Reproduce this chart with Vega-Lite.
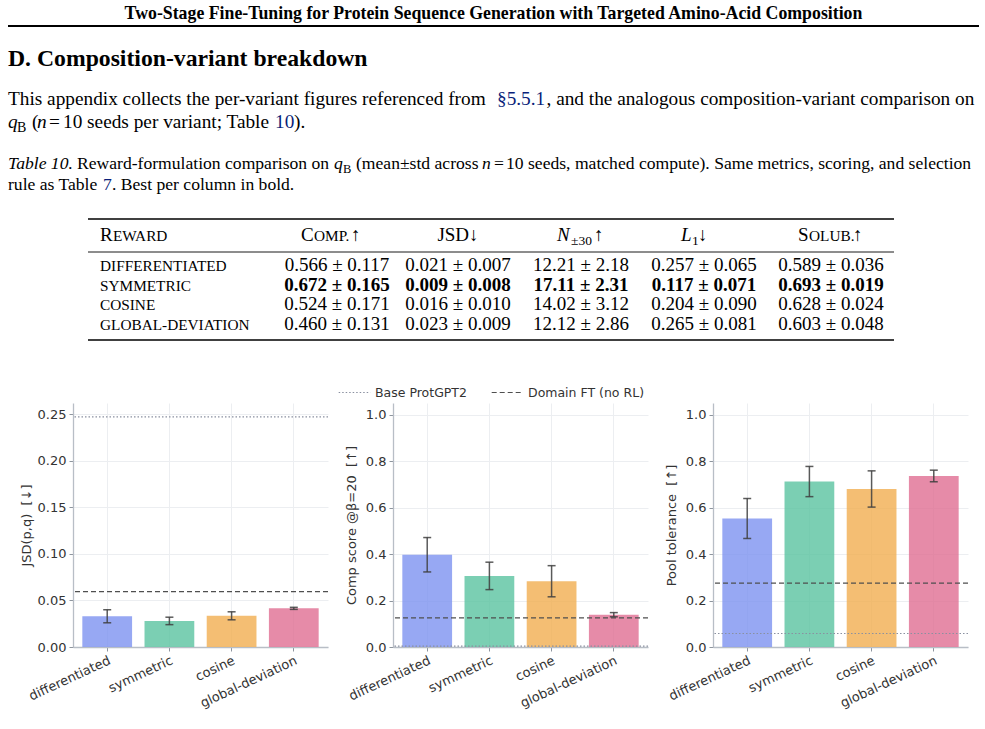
{
  "$schema": "https://vega.github.io/schema/vega-lite/v6.json",
  "background": "white",
  "autosize": {"type": "pad"},
  "padding": {"left": 7, "top": 0, "right": 7, "bottom": 0},
  "bounds": "flush",
  "spacing": 58,
  "datasets": {
    "bars": [
      {"metric": "jsd", "variant": "differentiated", "value": 0.033, "sd": 0.007},
      {"metric": "jsd", "variant": "symmetric", "value": 0.028, "sd": 0.004},
      {"metric": "jsd", "variant": "cosine", "value": 0.0335, "sd": 0.0043},
      {"metric": "jsd", "variant": "global-deviation", "value": 0.0415, "sd": 0.0011},
      {"metric": "comp", "variant": "differentiated", "value": 0.397, "sd": 0.074},
      {"metric": "comp", "variant": "symmetric", "value": 0.306, "sd": 0.059},
      {"metric": "comp", "variant": "cosine", "value": 0.283, "sd": 0.067},
      {"metric": "comp", "variant": "global-deviation", "value": 0.139, "sd": 0.009},
      {"metric": "pool", "variant": "differentiated", "value": 0.553, "sd": 0.086},
      {"metric": "pool", "variant": "symmetric", "value": 0.712, "sd": 0.065},
      {"metric": "pool", "variant": "cosine", "value": 0.68, "sd": 0.078},
      {"metric": "pool", "variant": "global-deviation", "value": 0.736, "sd": 0.025}
    ],
    "refs": [
      {"metric": "jsd", "ref": "Base ProtGPT2", "value": 0.247},
      {"metric": "jsd", "ref": "Domain FT (no RL)", "value": 0.0595},
      {"metric": "comp", "ref": "Base ProtGPT2", "value": 0.004},
      {"metric": "comp", "ref": "Domain FT (no RL)", "value": 0.125},
      {"metric": "pool", "ref": "Base ProtGPT2", "value": 0.058},
      {"metric": "pool", "ref": "Domain FT (no RL)", "value": 0.275}
    ]
  },
  "vconcat": [
    {
      "width": 895,
      "height": 345,
      "encoding": {
        "x": {"field": "stop", "type": "quantitative", "axis": null,
          "scale": {"zero": false, "nice": false,
            "domain": [0,1,2,3,4,5,6,7,8,9,10,11,12,13,14,15,16,17,18,19,20,21,22,23,24,25,26,27,28,29,30,31,32,33,34,35,36,37,38,39,40,41],
            "range": [-65,906,420.5,15,821,27,264,385,508,631,758,424,473.5,-56,-41,-36,-10,202,221,4,261,270,283,409,433,30,39,40,228,241,278,484,498,521,608,619,625,725,736,780,-24,421]}},
        "y": {"field": "line", "type": "quantitative", "axis": null,
          "scale": {"zero": false, "nice": false,
            "domain": [0,1,2,3,4,5,6,7,8,9,10,11,12,13,14],
            "range": [19,26,66,105,128,169,190,219,241,252,271,291,310,330,340]}}
      },
      "layer": [
        {
          "data": {"values": [{"line": 1, "stop": 0, "stop2": 1}]},
          "mark": {"type": "rule", "color": "black", "strokeWidth": 2},
          "encoding": {"x2": {"field": "stop2"}}
        },
        {
          "data": {"values": [{"line": 7, "stop": 3, "stop2": 4}, {"line": 14, "stop": 3, "stop2": 4}]},
          "mark": {"type": "rule", "color": "black", "strokeWidth": 1.6},
          "encoding": {"x2": {"field": "stop2"}}
        },
        {
          "data": {"values": [{"line": 9, "stop": 3, "stop2": 4}]},
          "mark": {"type": "rule", "color": "black", "strokeWidth": 0.9},
          "encoding": {"x2": {"field": "stop2"}}
        },
        {
          "data": {"values": [{"line": 0, "stop": 2, "text": "Two-Stage Fine-Tuning for Protein Sequence Generation with Targeted Amino-Acid Composition"}]},
          "mark": {"type": "text", "font": "Liberation Serif", "fontSize": 17.8, "fontWeight": "bold", "align": "center", "baseline": "alphabetic", "color": "black"},
          "encoding": {"text": {"field": "text"}}
        },
        {
          "data": {"values": [{"line": 2, "stop": 0, "text": "D. Composition-variant breakdown"}]},
          "mark": {"type": "text", "font": "Liberation Serif", "fontSize": 23.7, "fontWeight": "bold", "align": "left", "baseline": "alphabetic", "color": "black"},
          "encoding": {"text": {"field": "text"}}
        },
        {
          "data": {"values": [
            {"line": 3, "stop": 0, "text": "This appendix collects the per-variant figures referenced from"},
            {"line": 3, "stop": 12, "text": ", and the analogous composition-variant comparison on"},
            {"line": 4, "stop": 14, "text": "("},
            {"line": 4, "stop": 40, "text": "="},
            {"line": 4, "stop": 16, "text": "10 seeds per variant; Table"},
            {"line": 4, "stop": 18, "text": ")."}
          ]},
          "mark": {"type": "text", "font": "Liberation Serif", "fontSize": 19.3, "align": "left", "baseline": "alphabetic", "color": "black"},
          "encoding": {"text": {"field": "text"}}
        },
        {
          "data": {"values": [{"line": 4, "stop": 0, "text": "q"}, {"line": 4, "stop": 15, "text": "n"}]},
          "mark": {"type": "text", "font": "Liberation Serif", "fontSize": 19.3, "fontStyle": "italic", "align": "left", "baseline": "alphabetic", "color": "black"},
          "encoding": {"text": {"field": "text"}}
        },
        {
          "data": {"values": [{"line": 4, "stop": 13, "text": "B"}]},
          "mark": {"type": "text", "font": "Liberation Serif", "fontSize": 14, "dy": 4, "align": "left", "baseline": "alphabetic", "color": "black"},
          "encoding": {"text": {"field": "text"}}
        },
        {
          "data": {"values": [{"line": 3, "stop": 11, "text": "§5.5.1"}, {"line": 4, "stop": 17, "text": "10"}]},
          "mark": {"type": "text", "font": "Liberation Serif", "fontSize": 19.3, "align": "left", "baseline": "alphabetic", "color": "#0a1f7a"},
          "encoding": {"text": {"field": "text"}}
        },
        {
          "data": {"values": [
            {"line": 5, "stop": 19, "text": "Reward-formulation comparison on"},
            {"line": 5, "stop": 22, "text": "(mean±std across"},
            {"line": 5, "stop": 41, "text": "="},
            {"line": 5, "stop": 24, "text": "10 seeds, matched compute). Same metrics, scoring, and selection"},
            {"line": 6, "stop": 0, "text": "rule as Table"},
            {"line": 6, "stop": 26, "text": ". Best per column in bold."}
          ]},
          "mark": {"type": "text", "font": "Liberation Serif", "fontSize": 17.6, "align": "left", "baseline": "alphabetic", "color": "black"},
          "encoding": {"text": {"field": "text"}}
        },
        {
          "data": {"values": [{"line": 5, "stop": 0, "text": "Table 10."}, {"line": 5, "stop": 20, "text": "q"}, {"line": 5, "stop": 23, "text": "n"}]},
          "mark": {"type": "text", "font": "Liberation Serif", "fontSize": 17.6, "fontStyle": "italic", "align": "left", "baseline": "alphabetic", "color": "black"},
          "encoding": {"text": {"field": "text"}}
        },
        {
          "data": {"values": [{"line": 5, "stop": 21, "text": "B"}]},
          "mark": {"type": "text", "font": "Liberation Serif", "fontSize": 12.5, "dy": 3.5, "align": "left", "baseline": "alphabetic", "color": "black"},
          "encoding": {"text": {"field": "text"}}
        },
        {
          "data": {"values": [{"line": 6, "stop": 25, "text": "7"}]},
          "mark": {"type": "text", "font": "Liberation Serif", "fontSize": 17.6, "align": "left", "baseline": "alphabetic", "color": "#0a1f7a"},
          "encoding": {"text": {"field": "text"}}
        },
        {
          "data": {"values": [
            {"line": 8, "stop": 5, "text": "R"}, {"line": 8, "stop": 28, "text": "C"}, {"line": 8, "stop": 37, "text": "S"},
            {"line": 8, "stop": 30, "text": "↑"}, {"line": 8, "stop": 33, "text": "↑"}, {"line": 8, "stop": 36, "text": "↓"}, {"line": 8, "stop": 39, "text": "↑"}
          ]},
          "mark": {"type": "text", "font": "Liberation Serif", "fontSize": 19, "align": "left", "baseline": "alphabetic", "color": "black"},
          "encoding": {"text": {"field": "text"}}
        },
        {
          "data": {"values": [{"line": 8, "stop": 7, "text": "JSD↓"}]},
          "mark": {"type": "text", "font": "Liberation Serif", "fontSize": 19, "align": "center", "baseline": "alphabetic", "color": "black"},
          "encoding": {"text": {"field": "text"}}
        },
        {
          "data": {"values": [
            {"line": 8, "stop": 27, "text": "EWARD"}, {"line": 8, "stop": 29, "text": "OMP."}, {"line": 8, "stop": 38, "text": "OLUB."},
            {"line": 10, "stop": 5, "text": "DIFFERENTIATED"}, {"line": 11, "stop": 5, "text": "SYMMETRIC"},
            {"line": 12, "stop": 5, "text": "COSINE"}, {"line": 13, "stop": 5, "text": "GLOBAL-DEVIATION"}
          ]},
          "mark": {"type": "text", "font": "Liberation Serif", "fontSize": 15.3, "align": "left", "baseline": "alphabetic", "color": "black"},
          "encoding": {"text": {"field": "text"}}
        },
        {
          "data": {"values": [{"line": 8, "stop": 31, "text": "N"}, {"line": 8, "stop": 34, "text": "L"}]},
          "mark": {"type": "text", "font": "Liberation Serif", "fontSize": 19, "fontStyle": "italic", "align": "left", "baseline": "alphabetic", "color": "black"},
          "encoding": {"text": {"field": "text"}}
        },
        {
          "data": {"values": [{"line": 8, "stop": 32, "text": "±30"}, {"line": 8, "stop": 35, "text": "1"}]},
          "mark": {"type": "text", "font": "Liberation Serif", "fontSize": 13.5, "dy": 4, "align": "left", "baseline": "alphabetic", "color": "black"},
          "encoding": {"text": {"field": "text"}}
        },
        {
          "data": {"values": [
            {"line": 10, "stop": 6, "text": "0.566 ± 0.117"}, {"line": 10, "stop": 7, "text": "0.021 ± 0.007"}, {"line": 10, "stop": 8, "text": "12.21 ± 2.18"}, {"line": 10, "stop": 9, "text": "0.257 ± 0.065"}, {"line": 10, "stop": 10, "text": "0.589 ± 0.036"},
            {"line": 12, "stop": 6, "text": "0.524 ± 0.171"}, {"line": 12, "stop": 7, "text": "0.016 ± 0.010"}, {"line": 12, "stop": 8, "text": "14.02 ± 3.12"}, {"line": 12, "stop": 9, "text": "0.204 ± 0.090"}, {"line": 12, "stop": 10, "text": "0.628 ± 0.024"},
            {"line": 13, "stop": 6, "text": "0.460 ± 0.131"}, {"line": 13, "stop": 7, "text": "0.023 ± 0.009"}, {"line": 13, "stop": 8, "text": "12.12 ± 2.86"}, {"line": 13, "stop": 9, "text": "0.265 ± 0.081"}, {"line": 13, "stop": 10, "text": "0.603 ± 0.048"}
          ]},
          "mark": {"type": "text", "font": "Liberation Serif", "fontSize": 19, "align": "center", "baseline": "alphabetic", "color": "black"},
          "encoding": {"text": {"field": "text"}}
        },
        {
          "data": {"values": [
            {"line": 11, "stop": 6, "text": "0.672 ± 0.165"}, {"line": 11, "stop": 7, "text": "0.009 ± 0.008"}, {"line": 11, "stop": 8, "text": "17.11 ± 2.31"}, {"line": 11, "stop": 9, "text": "0.117 ± 0.071"}, {"line": 11, "stop": 10, "text": "0.693 ± 0.019"}
          ]},
          "mark": {"type": "text", "font": "Liberation Serif", "fontSize": 19, "fontWeight": "bold", "align": "center", "baseline": "alphabetic", "color": "black"},
          "encoding": {"text": {"field": "text"}}
        }
      ]
    },
    {
      "bounds": "flush",
      "spacing": 65,
      "hconcat": [
        {
          "width": 255,
          "height": 244,
          "layer": [
            {
              "data": {"name": "bars"},
              "transform": [{"filter": "datum.metric === 'jsd'"}],
              "mark": {"type": "bar", "opacity": 0.8},
              "encoding": {
                "x": {"field": "variant", "type": "nominal", "sort": ["differentiated", "symmetric", "cosine", "global-deviation"],
                  "scale": {"paddingInner": 0.2, "paddingOuter": 0.15},
                  "axis": {"title": null, "labelAngle": -25, "labelAlign": "right", "labelBaseline": "top", "grid": true}},
                "y": {"field": "value", "type": "quantitative", "title": "JSD(p,q)\u00a0\u00a0[↓]", "scale": {"domain": [0, 0.262], "nice": false},
                  "axis": {"values": [0, 0.05, 0.1, 0.15, 0.2, 0.25], "format": ".2f", "grid": true, "titlePadding": 4}},
                "color": {"field": "variant", "type": "nominal", "legend": null,
                  "scale": {"domain": ["differentiated", "symmetric", "cosine", "global-deviation"], "range": ["#7d92f0", "#5ac3a0", "#f1ae50", "#e06e92"]}}
              }
            },
            {
              "data": {"name": "refs"},
              "transform": [{"filter": "datum.metric === 'jsd'"}],
              "mark": {"type": "rule", "strokeWidth": 1.2},
              "encoding": {
                "y": {"field": "value", "type": "quantitative", "title": "JSD(p,q)\u00a0\u00a0[↓]"},
                "stroke": {"field": "ref", "type": "nominal",
                  "scale": {"domain": ["Base ProtGPT2", "Domain FT (no RL)"], "range": ["#8a90a0", "#4f4f4f"]},
                  "legend": {"orient": "none", "legendX": 265, "legendY": 376, "direction": "horizontal", "title": null, "symbolSize": 1000, "symbolStrokeWidth": 1.2, "columnPadding": 22, "labelFontSize": 12.5, "labelColor": "#333", "labelFont": "DejaVu Sans"}},
                "strokeDash": {"field": "ref", "type": "nominal",
                  "scale": {"domain": ["Base ProtGPT2", "Domain FT (no RL)"], "range": [[1.5, 2], [5, 3]]},
                  "legend": {"orient": "none", "legendX": 265, "legendY": 376, "direction": "horizontal", "title": null, "symbolSize": 1000, "symbolStrokeWidth": 1.2, "columnPadding": 22, "labelFontSize": 12.5, "labelColor": "#333", "labelFont": "DejaVu Sans"}}
              }
            },
            {
              "data": {"name": "bars"},
              "transform": [{"filter": "datum.metric === 'jsd'"}],
              "mark": {"type": "errorbar", "ticks": true, "size": 8, "thickness": 1.5, "color": "#3f3f3f", "opacity": 0.85},
              "encoding": {
                "x": {"field": "variant", "type": "nominal", "sort": ["differentiated", "symmetric", "cosine", "global-deviation"]},
                "y": {"field": "value", "type": "quantitative", "title": "JSD(p,q)\u00a0\u00a0[↓]"},
                "yError": {"field": "sd"}
              }
            }
          ]
        },
        {
          "width": 255,
          "height": 244,
          "layer": [
            {
              "data": {"name": "bars"},
              "transform": [{"filter": "datum.metric === 'comp'"}],
              "mark": {"type": "bar", "opacity": 0.8},
              "encoding": {
                "x": {"field": "variant", "type": "nominal", "sort": ["differentiated", "symmetric", "cosine", "global-deviation"],
                  "scale": {"paddingInner": 0.2, "paddingOuter": 0.15},
                  "axis": {"title": null, "labelAngle": -25, "labelAlign": "right", "labelBaseline": "top", "grid": true}},
                "y": {"field": "value", "type": "quantitative", "title": "Comp score @β=20\u00a0\u00a0[↑]", "scale": {"domain": [0, 1.05], "nice": false},
                  "axis": {"values": [0, 0.2, 0.4, 0.6, 0.8, 1.0], "format": ".1f", "grid": true}},
                "color": {"field": "variant", "type": "nominal", "legend": null,
                  "scale": {"domain": ["differentiated", "symmetric", "cosine", "global-deviation"], "range": ["#7d92f0", "#5ac3a0", "#f1ae50", "#e06e92"]}}
              }
            },
            {
              "data": {"name": "refs"},
              "transform": [{"filter": "datum.metric === 'comp'"}],
              "mark": {"type": "rule", "strokeWidth": 1.2},
              "encoding": {
                "y": {"field": "value", "type": "quantitative", "title": "Comp score @β=20\u00a0\u00a0[↑]"},
                "stroke": {"field": "ref", "type": "nominal",
                  "scale": {"domain": ["Base ProtGPT2", "Domain FT (no RL)"], "range": ["#8a90a0", "#4f4f4f"]},
                  "legend": {"orient": "none", "legendX": 265, "legendY": 376, "direction": "horizontal", "title": null, "symbolSize": 1000, "symbolStrokeWidth": 1.2, "columnPadding": 22, "labelFontSize": 12.5, "labelColor": "#333", "labelFont": "DejaVu Sans"}},
                "strokeDash": {"field": "ref", "type": "nominal",
                  "scale": {"domain": ["Base ProtGPT2", "Domain FT (no RL)"], "range": [[1.5, 2], [5, 3]]},
                  "legend": {"orient": "none", "legendX": 265, "legendY": 376, "direction": "horizontal", "title": null, "symbolSize": 1000, "symbolStrokeWidth": 1.2, "columnPadding": 22, "labelFontSize": 12.5, "labelColor": "#333", "labelFont": "DejaVu Sans"}}
              }
            },
            {
              "data": {"name": "bars"},
              "transform": [{"filter": "datum.metric === 'comp'"}],
              "mark": {"type": "errorbar", "ticks": true, "size": 8, "thickness": 1.5, "color": "#3f3f3f", "opacity": 0.85},
              "encoding": {
                "x": {"field": "variant", "type": "nominal", "sort": ["differentiated", "symmetric", "cosine", "global-deviation"]},
                "y": {"field": "value", "type": "quantitative", "title": "Comp score @β=20\u00a0\u00a0[↑]"},
                "yError": {"field": "sd"}
              }
            }
          ]
        },
        {
          "width": 255,
          "height": 244,
          "layer": [
            {
              "data": {"name": "bars"},
              "transform": [{"filter": "datum.metric === 'pool'"}],
              "mark": {"type": "bar", "opacity": 0.8},
              "encoding": {
                "x": {"field": "variant", "type": "nominal", "sort": ["differentiated", "symmetric", "cosine", "global-deviation"],
                  "scale": {"paddingInner": 0.2, "paddingOuter": 0.15},
                  "axis": {"title": null, "labelAngle": -25, "labelAlign": "right", "labelBaseline": "top", "grid": true}},
                "y": {"field": "value", "type": "quantitative", "title": "Pool tolerance\u00a0\u00a0[↑]", "scale": {"domain": [0, 1.05], "nice": false},
                  "axis": {"values": [0, 0.2, 0.4, 0.6, 0.8, 1.0], "format": ".1f", "grid": true}},
                "color": {"field": "variant", "type": "nominal", "legend": null,
                  "scale": {"domain": ["differentiated", "symmetric", "cosine", "global-deviation"], "range": ["#7d92f0", "#5ac3a0", "#f1ae50", "#e06e92"]}}
              }
            },
            {
              "data": {"name": "refs"},
              "transform": [{"filter": "datum.metric === 'pool'"}],
              "mark": {"type": "rule", "strokeWidth": 1.2},
              "encoding": {
                "y": {"field": "value", "type": "quantitative", "title": "Pool tolerance\u00a0\u00a0[↑]"},
                "stroke": {"field": "ref", "type": "nominal",
                  "scale": {"domain": ["Base ProtGPT2", "Domain FT (no RL)"], "range": ["#8a90a0", "#4f4f4f"]},
                  "legend": {"orient": "none", "legendX": 265, "legendY": 376, "direction": "horizontal", "title": null, "symbolSize": 1000, "symbolStrokeWidth": 1.2, "columnPadding": 22, "labelFontSize": 12.5, "labelColor": "#333", "labelFont": "DejaVu Sans"}},
                "strokeDash": {"field": "ref", "type": "nominal",
                  "scale": {"domain": ["Base ProtGPT2", "Domain FT (no RL)"], "range": [[1.5, 2], [5, 3]]},
                  "legend": {"orient": "none", "legendX": 265, "legendY": 376, "direction": "horizontal", "title": null, "symbolSize": 1000, "symbolStrokeWidth": 1.2, "columnPadding": 22, "labelFontSize": 12.5, "labelColor": "#333", "labelFont": "DejaVu Sans"}}
              }
            },
            {
              "data": {"name": "bars"},
              "transform": [{"filter": "datum.metric === 'pool'"}],
              "mark": {"type": "errorbar", "ticks": true, "size": 8, "thickness": 1.5, "color": "#3f3f3f", "opacity": 0.85},
              "encoding": {
                "x": {"field": "variant", "type": "nominal", "sort": ["differentiated", "symmetric", "cosine", "global-deviation"]},
                "y": {"field": "value", "type": "quantitative", "title": "Pool tolerance\u00a0\u00a0[↑]"},
                "yError": {"field": "sd"}
              }
            }
          ]
        }
      ]
    }
  ],
  "config": {
    "view": {"stroke": null},
    "font": "DejaVu Sans",
    "axis": {
      "labelFont": "DejaVu Sans", "labelFontSize": 13, "labelColor": "#333333",
      "titleFont": "DejaVu Sans", "titleFontSize": 13, "titleFontWeight": "normal", "titleColor": "#333333", "titlePadding": 7,
      "domainColor": "#b8bec6", "domainWidth": 1.3, "tickColor": "#8e959e", "tickSize": 4, "labelPadding": 3,
      "gridColor": "#eceef1", "gridWidth": 1
    }
  }
}
